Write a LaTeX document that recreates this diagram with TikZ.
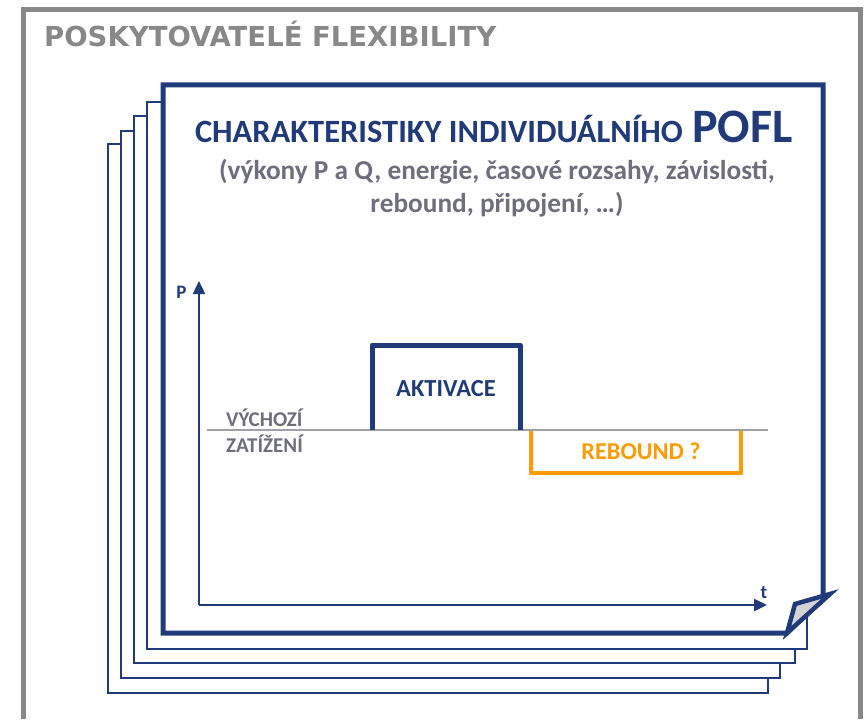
\documentclass[tikz,border=0pt]{standalone}
\usepackage{fontspec}
\setmainfont{Carlito}
\newfontfamily\titlefont{DejaVu Sans}
\usetikzlibrary{arrows.meta}
\definecolor{navy}{HTML}{203A7A}
\definecolor{framegray}{HTML}{888888}
\definecolor{subgray}{HTML}{6E6E7C}
\definecolor{basegray}{HTML}{A0A0A8}
\definecolor{orng}{HTML}{FF9A00}
\definecolor{foldgray}{HTML}{D4D4D8}
\begin{document}
\begin{tikzpicture}[x=1pt,y=-1pt,
  page/.style={draw=navy,fill=white,line width=2.3pt},
  mainpage/.style={draw=navy,fill=white,line width=5pt,line join=miter},
  axis/.style={draw=navy,line width=2.4pt,-{Triangle[length=13pt,width=12pt]}},
  lbl/.style={font=\bfseries,inner sep=0pt},
  subtxt/.style={lbl,text=subgray,anchor=base,font=\bfseries\fontsize{27.3}{33}\selectfont},
  pofl/.style={lbl,anchor=base west,font=\bfseries\fontsize{48}{50}\selectfont}]
\useasboundingbox (0,0) rectangle (866,719);
% outer frame
\draw[framegray,line width=5pt] (23,719) -- (23,9.5) -- (860,9.5) -- (860,719);
\node[lbl,anchor=base west,text=framegray,font=\titlefont\bfseries\fontsize{27.5}{30}\selectfont] (head) at (44,47) {POSKYTOVATELÉ FLEXIBILITY};
% stacked pages
\draw[page] (108,144) rectangle (768,693);
\draw[page] (121,131) rectangle (780,678);
\draw[page] (134,116) rectangle (795,663);
\draw[page] (147,102) rectangle (807,649);
% main page
\draw[mainpage] (163,85) -- (823,85) -- (823,597) -- (787,633) -- (163,633) -- cycle;
\draw[navy,fill=foldgray,line width=4.5pt,line join=miter] (830,594) -- (795,604) -- (787,633) -- cycle;
% titles
\node[lbl,text=navy,anchor=base east,font=\bfseries\fontsize{32.5}{36}\selectfont] (t1) at (683,143) {CHARAKTERISTIKY INDIVIDUÁLNÍHO};
\node[pofl,text=navy] (pofl) at (692,143) {POFL};
\node[subtxt] (t2) at (497,180) {(výkony P a Q, energie, časové rozsahy, závislosti,};
\node[subtxt] (t3) at (497,213) {rebound, připojení, …)};
% axes
\coordinate (o) at (199,605);
\coordinate (ptop) at (199,281);
\coordinate (tend) at (767,605);
\draw[axis] (o) -- (ptop);
\draw[axis] (o) -- (tend);
\node[lbl,text=navy,font=\bfseries\fontsize{19}{22}\selectfont,anchor=base] (plbl) at (181.5,298) {P};
\node[lbl,text=navy,font=\bfseries\fontsize{19}{22}\selectfont,anchor=base] (tlbl) at (764,598) {t};
% baseline
\coordinate (b1) at (207,430);
\coordinate (b2) at (768,430);
\draw[basegray,line width=1.5pt] (b1) -- (b2);
\node[lbl,text=subgray,anchor=base west,font=\bfseries\fontsize{21}{25}\selectfont] (vz1) at (226,426) {VÝCHOZÍ};
\node[lbl,text=subgray,anchor=base west,font=\bfseries\fontsize{21}{25}\selectfont] (vz2) at (226,452) {ZATÍŽENÍ};
% activation
\coordinate (a1) at (372,430);
\coordinate (a2) at (372,345);
\coordinate (a3) at (520,345);
\coordinate (a4) at (520,430);
\draw[navy,line width=5pt,line join=round] (a1) -- (a2) -- (a3) -- (a4);
\node[lbl,text=navy,font=\bfseries\fontsize{24.5}{28}\selectfont] (akt) at (446,389) {AKTIVACE};
% rebound
\coordinate (r1) at (531,431);
\coordinate (r2) at (531,473);
\coordinate (r3) at (741,473);
\coordinate (r4) at (741,431);
\draw[orng,line width=4pt,line join=round] (r1) -- (r2) -- (r3) -- (r4);
\node[lbl,text=orng,font=\bfseries\fontsize{24.2}{28}\selectfont] (reb) at (641,451) {REBOUND ?};
\end{tikzpicture}
\end{document}
